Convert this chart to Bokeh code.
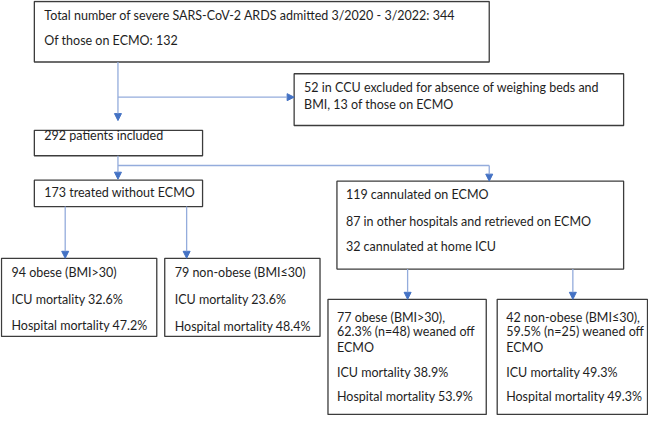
from bokeh.plotting import figure
from bokeh.models import Range1d, Arrow, NormalHead
from bokeh.core.properties import value
from bokeh.embed import file_html
from bokeh.resources import INLINE

# ---- flowchart content ----
total_lines = ["Total number of severe SARS-CoV-2 ARDS admitted 3/2020 - 3/2022: 344",
               "Of those on ECMO: 132"]
excluded_lines = ["52 in CCU excluded for absence of weighing beds and",
                  "BMI, 13 of those on ECMO"]
included_lines = ["292 patients included"]
no_ecmo_lines = ["173 treated without ECMO"]
ecmo_lines = ["119 cannulated on ECMO",
              "87 in other hospitals and retrieved on ECMO",
              "32 cannulated at home ICU"]
no_ecmo_obese = ["94 obese (BMI>30)", "ICU mortality 32.6%", "Hospital mortality 47.2%"]
no_ecmo_nonobese = ["79 non-obese (BMI≤30)", "ICU mortality 23.6%", "Hospital mortality 48.4%"]
ecmo_obese = ["77 obese (BMI>30),", "62.3% (n=48) weaned off", "ECMO",
              "ICU mortality 38.9%", "Hospital mortality 53.9%"]
ecmo_nonobese = ["42 non-obese (BMI≤30),", "59.5% (n=25) weaned off", "ECMO",
                 "ICU mortality 49.3%", "Hospital mortality 49.3%"]

# ---- layout (reference pixel coordinates) ----
boxes = [  # left, right, top, bottom, text x, line y's, lines
    (36, 493, 4, 66, 46, [18, 44], total_lines),
    (297, 628, 78, 131, 307, [92, 109], excluded_lines),
    (36, 205, 136, 162, 46, [141], included_lines),
    (36, 205, 187, 214, 46, [200], no_ecmo_lines),
    (340, 628, 188, 278, 349, [202, 229, 255], ecmo_lines),
    (3, 159, 267, 347, 13, [282, 309, 336], no_ecmo_obese),
    (167, 323, 267, 347, 177, [282, 309, 337], no_ecmo_nonobese),
    (331, 490, 309, 427, 340, [328, 342, 358, 384, 409], ecmo_obese),
    (501, 652, 309, 427, 510, [328, 342, 358, 384, 409], ecmo_nonobese),
]

W, H = 648, 415
p = figure(width=W, height=H, output_backend="svg", toolbar_location=None,
           x_range=Range1d(2, 653), y_range=Range1d(428, 3),
           min_border=0, outline_line_color=None)
p.axis.visible = False
p.grid.visible = False
p.background_fill_color = "white"

BORDER = "#3c3c3c"
LINE = "#94acdc"
HEAD = "#4472c4"
FONT = "Lato"

for (l, r, t, b, tx, ys, lines) in boxes:
    p.quad(left=l, right=r, top=t, bottom=b, fill_color="white",
           line_color=BORDER, line_width=1.3)
    p.text(x=[tx] * len(lines), y=ys, text=lines, text_font=value(FONT),
           text_font_size="12.5px", text_color="#1e1e1e",
           text_baseline="middle", text_align="left")

p.segment(x0=[120], y0=[172], x1=[493], y1=[172], line_color=LINE, line_width=1.3)

arrows = [
    (120, 66, 120, 126),
    (120, 102, 297, 102),
    (120, 162, 120, 186),
    (493, 172, 493, 188),
    (67, 214, 67, 267),
    (189, 214, 189, 267),
    (411, 278, 411, 309),
    (577, 278, 577, 309),
]
for x0, y0, x1, y1 in arrows:
    p.add_layout(Arrow(end=NormalHead(size=7, fill_color=HEAD, line_color=HEAD),
                       x_start=x0, y_start=y0, x_end=x1, y_end=y1,
                       line_color=LINE, line_width=1.3))

open("out.html", "w").write(file_html(p, INLINE))
